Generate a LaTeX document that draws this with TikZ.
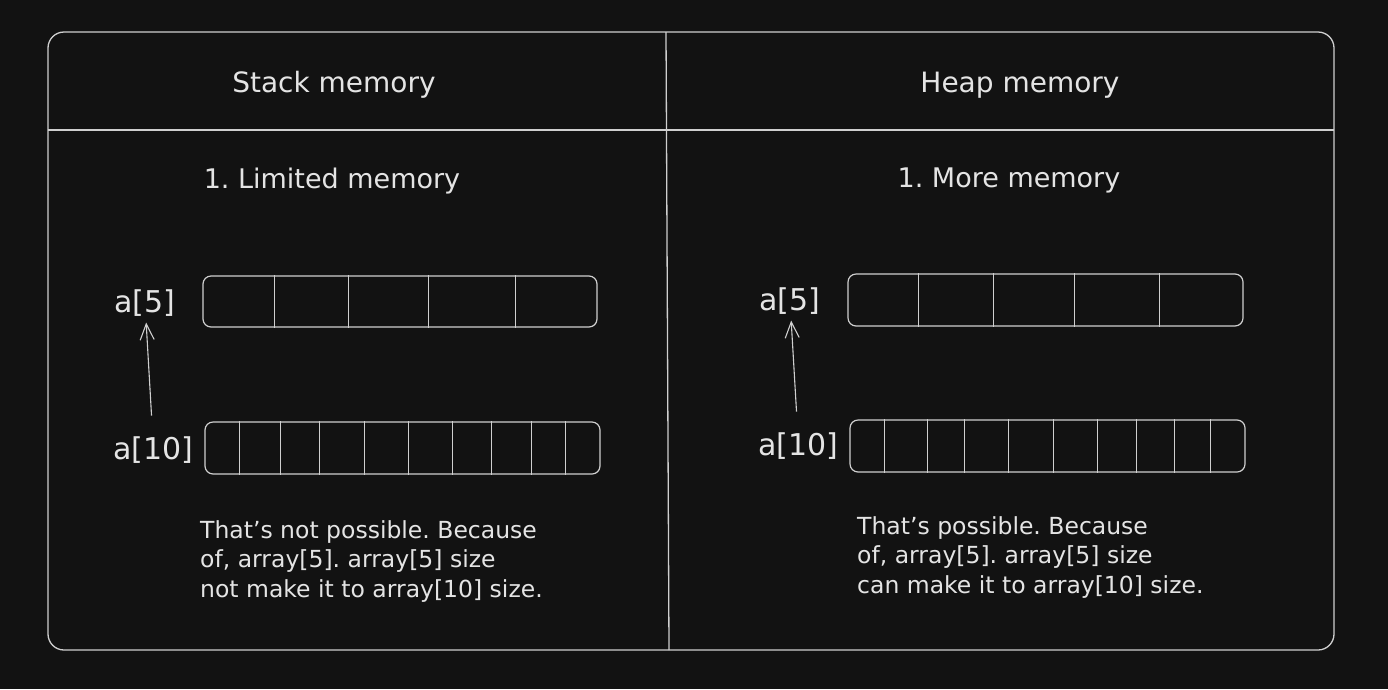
\documentclass[tikz,border=0pt]{standalone}
\usepackage{fontspec}
\setmainfont{DejaVu Sans}
\usetikzlibrary{arrows.meta}
\definecolor{bgc}{HTML}{121212}
\definecolor{linec}{HTML}{CFCFCF}
\definecolor{txtc}{HTML}{E4E4E4}
\frenchspacing
\tikzset{
  frame/.style={draw=linec, line width=1.3pt},
  titletext/.style={text=txtc, inner sep=0pt, anchor=base, font=\fontsize{28}{33}\selectfont},
  subtext/.style={text=txtc, inner sep=0pt, anchor=base, font=\fontsize{27}{32}\selectfont},
  lbltext/.style={text=txtc, inner sep=0pt, anchor=base, font=\fontsize{30}{36}\selectfont},
  captext/.style={text=txtc, inner sep=0pt, anchor=north west, align=left, font=\fontsize{23.5}{29.5}\selectfont},
  arraybox/.style={draw=linec, line width=1.2pt, rounded corners=8pt, minimum width=395pt, minimum height=52pt, inner sep=0pt},
  cellline/.style={draw=linec, line width=1.1pt},
  ptr/.style={draw=linec, line width=1.1pt, -{Straight Barb[length=16pt,width=14pt,line width=1.1pt]}}
}
\begin{document}
\begin{tikzpicture}[x=1pt,y=-1pt]
\fill[bgc] (0,0) rectangle (1388,689);
\useasboundingbox (0,0) rectangle (1388,689);
% outer table
\draw[frame, rounded corners=16pt] (48,32) rectangle (1334,650);
\draw[frame] (666,32) -- (669,650);
\draw[frame] (48,130) -- (1334,130);
% headers
\node[titletext] (title1) at (334,92) {Stack memory};
\node[titletext] (title2) at (1020,92) {Heap memory};
\node[subtext] (sub1) at (332,188) {1. Limited memory};
\node[subtext] (sub2) at (1009,187) {1. More memory};
% left arrays
\node[arraybox, minimum width=394pt, minimum height=51pt] (arrL5) at (400,301.5) {};
\foreach \d in {72,146,226,313}
  \draw[cellline] ([xshift=\d pt]arrL5.north west) -- ([xshift=\d pt]arrL5.south west);
\node[arraybox] (arrL10) at (402.5,448) {};
\foreach \d in {35,76,115,160,204,248,287,327,361}
  \draw[cellline] ([xshift=\d pt]arrL10.north west) -- ([xshift=\d pt]arrL10.south west);
% right arrays
\node[arraybox] (arrR5) at (1045.5,300) {};
\foreach \d in {71,146,227,312}
  \draw[cellline] ([xshift=\d pt]arrR5.north west) -- ([xshift=\d pt]arrR5.south west);
\node[arraybox] (arrR10) at (1047.5,446) {};
\foreach \d in {35,78,115,159,204,248,287,325,361}
  \draw[cellline] ([xshift=\d pt]arrR10.north west) -- ([xshift=\d pt]arrR10.south west);
% labels
\node[lbltext] (lblL5) at (145,312) {a[5]};
\node[lbltext] (lblL10) at (153.5,459) {a[10]};
\node[lbltext] (lblR5) at (790,310) {a[5]};
\node[lbltext] (lblR10) at (798.5,455) {a[10]};
% pointers
\draw[ptr, shorten <=34pt, shorten >=20pt] (lblL10.center) -- (lblL5.center);
\draw[ptr, shorten <=34pt, shorten >=20pt] (lblR10.center) -- (lblR5.center);
% captions
\node[captext] (capL) at (200,520) {That's not possible. Because\\of, array[5]. array[5] size\\not make it to array[10] size.};
\node[captext] (capR) at (857,516) {That's possible. Because\\of, array[5]. array[5] size\\can make it to array[10] size.};
\end{tikzpicture}
\end{document}
